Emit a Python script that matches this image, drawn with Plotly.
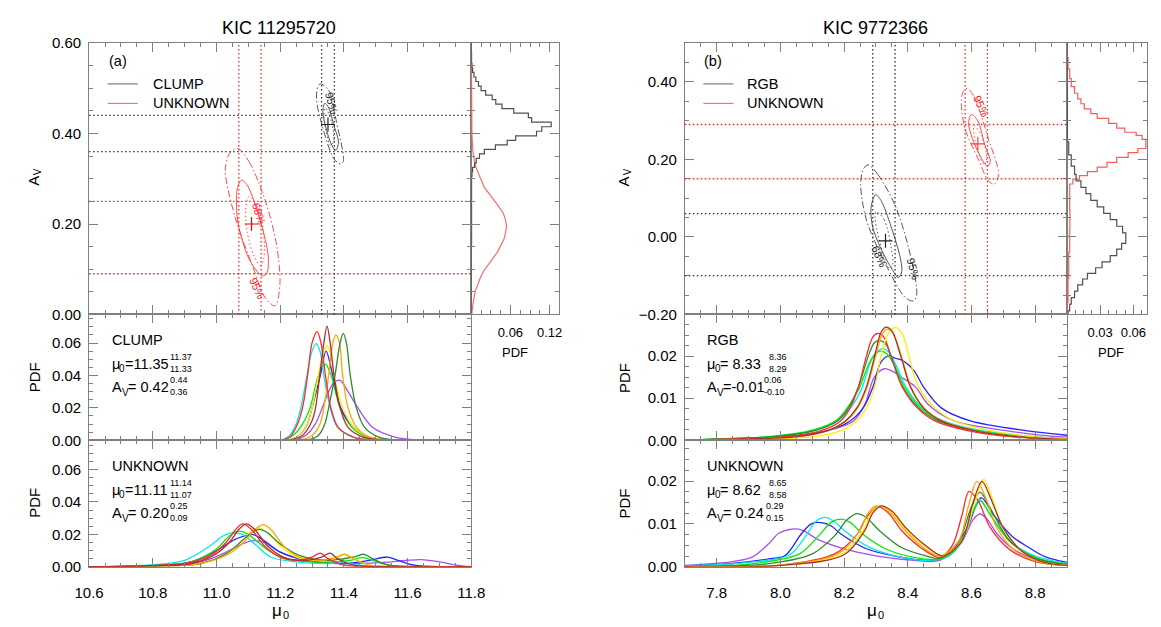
import plotly.graph_objects as go

FONT = "Liberation Sans, Arial, Helvetica, sans-serif"
W, H = 1161, 627

# ======================= DATA =======================
# --- KIC 11295720 (left) ---
L_TITLE = "KIC 11295720"
L_CLUMP_MU, L_CLUMP_MU_LIM = 11.35, [11.33, 11.37]
L_CLUMP_AV, L_CLUMP_AV_LIM = 0.42, [0.36, 0.44]
L_UNK_MU, L_UNK_MU_LIM = 11.11, [11.07, 11.14]
L_UNK_AV, L_UNK_AV_LIM = 0.20, [0.09, 0.25]

# contours (mu0, Av)
L_CLUMP_C68 = [(11.340, 0.467), (11.352, 0.457), (11.369, 0.417), (11.383, 0.381), (11.375, 0.363),
               (11.362, 0.374), (11.342, 0.417), (11.334, 0.449), (11.340, 0.467)]
L_CLUMP_C95 = [(11.326, 0.510), (11.352, 0.496), (11.377, 0.424), (11.398, 0.338), (11.388, 0.333),
               (11.367, 0.346), (11.332, 0.417), (11.314, 0.475), (11.318, 0.503), (11.326, 0.510)]
L_CLUMP_CIN = [(11.342, 0.457), (11.362, 0.424), (11.367, 0.381), (11.357, 0.374), (11.345, 0.403),
               (11.337, 0.439), (11.342, 0.457)]
L_UNK_C68 = [(11.079, 0.297), (11.097, 0.285), (11.117, 0.252), (11.153, 0.166), (11.163, 0.123),
             (11.158, 0.091), (11.145, 0.085), (11.128, 0.095), (11.102, 0.123), (11.080, 0.166),
             (11.066, 0.209), (11.063, 0.249), (11.066, 0.281), (11.079, 0.297)]
L_UNK_C95 = [(11.066, 0.367), (11.102, 0.338), (11.153, 0.252), (11.189, 0.152), (11.199, 0.066),
             (11.184, 0.019), (11.153, 0.037), (11.112, 0.109), (11.061, 0.209), (11.031, 0.295),
             (11.028, 0.324), (11.041, 0.356), (11.066, 0.367)]
L_UNK_CIN = [(11.102, 0.261), (11.133, 0.231), (11.148, 0.181), (11.148, 0.123), (11.138, 0.109),
             (11.117, 0.130), (11.097, 0.181), (11.092, 0.231), (11.102, 0.261)]

# marginal Av histograms (Av, PDF)
L_HIST_CLUMP_AV = [0.00, 0.30, 0.31, 0.32, 0.33, 0.34, 0.35, 0.36, 0.37, 0.38, 0.39, 0.40, 0.41, 0.42, 0.43,
                   0.44, 0.45, 0.46, 0.47, 0.48, 0.49, 0.50, 0.51, 0.52, 0.53, 0.54, 0.55, 0.56, 0.60]
L_HIST_CLUMP_P = [0.0, 0.0004, 0.001, 0.002, 0.005, 0.0075, 0.0125, 0.020, 0.037, 0.055, 0.068, 0.100,
                  0.108, 0.1225, 0.0925, 0.0875, 0.065, 0.047, 0.0375, 0.032, 0.022, 0.015, 0.011,
                  0.007, 0.004, 0.002, 0.001, 0.0004, 0.0]
L_HIST_UNK_AV = [0.000, 0.005, 0.023, 0.037, 0.052, 0.066, 0.080, 0.095, 0.109, 0.123, 0.138, 0.152,
                 0.166, 0.181, 0.195, 0.209, 0.224, 0.238, 0.252, 0.267, 0.281, 0.303, 0.324, 0.338,
                 0.360, 0.396, 0.468, 0.600]
L_HIST_UNK_P = [0.001, 0.001, 0.0025, 0.004, 0.006, 0.010, 0.0135, 0.0185, 0.025, 0.0325, 0.040, 0.045,
                0.050, 0.0525, 0.054, 0.0525, 0.049, 0.0425, 0.035, 0.0275, 0.020, 0.0135, 0.0075,
                0.005, 0.0025, 0.001, 0.0003, 0.0]

# mu0 PDFs, CLUMP solution (mu0, PDF)
L1_RED = [(10.60, 0), (11.20, 0), (11.23, 0.002), (11.25, 0.008), (11.27, 0.02), (11.286, 0.04), (11.30, 0.06),
          (11.316, 0.067), (11.328, 0.06), (11.342, 0.04), (11.359, 0.02), (11.382, 0.008), (11.43, 0.002),
          (11.50, 0), (11.80, 0)]
L1_CYAN = [(10.60, 0), (11.20, 0), (11.23, 0.003), (11.25, 0.01), (11.265, 0.02), (11.284, 0.04), (11.30, 0.055),
           (11.313, 0.0596), (11.325, 0.055), (11.337, 0.04), (11.357, 0.02), (11.38, 0.008), (11.43, 0.002),
           (11.50, 0), (11.80, 0)]
L1_BROWN = [(10.60, 0), (11.22, 0), (11.27, 0.003), (11.30, 0.012), (11.311, 0.02), (11.324, 0.04), (11.337, 0.06),
            (11.347, 0.0704), (11.357, 0.06), (11.369, 0.04), (11.388, 0.02), (11.413, 0.008), (11.46, 0.002),
            (11.55, 0), (11.80, 0)]
L1_YELLOW = [(10.60, 0), (11.22, 0), (11.26, 0.003), (11.285, 0.01), (11.30, 0.02), (11.32, 0.04), (11.335, 0.054),
             (11.347, 0.058), (11.358, 0.054), (11.369, 0.04), (11.396, 0.02), (11.43, 0.008), (11.48, 0.002),
             (11.55, 0), (11.80, 0)]
L1_BLUE = [(10.60, 0), (11.22, 0), (11.26, 0.003), (11.285, 0.01), (11.30, 0.02), (11.326, 0.04), (11.344, 0.055),
           (11.365, 0.04), (11.39, 0.02), (11.43, 0.008), (11.48, 0.002), (11.55, 0), (11.80, 0)]
L1_GREEN = [(10.60, 0), (11.20, 0), (11.24, 0.003), (11.27, 0.01), (11.294, 0.02), (11.32, 0.04), (11.342, 0.047),
            (11.36, 0.04), (11.388, 0.02), (11.425, 0.008), (11.47, 0.002), (11.55, 0), (11.80, 0)]
L1_ORANGE = [(10.60, 0), (11.26, 0), (11.30, 0.003), (11.325, 0.01), (11.337, 0.02), (11.352, 0.04), (11.365, 0.06),
             (11.375, 0.065), (11.386, 0.06), (11.396, 0.04), (11.413, 0.02), (11.44, 0.008), (11.48, 0.002),
             (11.55, 0), (11.80, 0)]
L1_DKGREEN = [(10.60, 0), (11.28, 0), (11.32, 0.003), (11.34, 0.01), (11.352, 0.02), (11.372, 0.04), (11.388, 0.06),
              (11.398, 0.066), (11.408, 0.06), (11.42, 0.04), (11.439, 0.02), (11.465, 0.008), (11.51, 0.002),
              (11.58, 0), (11.80, 0)]
L1_PURPLE = [(10.60, 0), (11.24, 0), (11.28, 0.003), (11.31, 0.01), (11.332, 0.02), (11.352, 0.03), (11.37, 0.036),
             (11.388, 0.037), (11.413, 0.03), (11.444, 0.02), (11.49, 0.008), (11.56, 0.002), (11.65, 0), (11.80, 0)]

# mu0 PDFs, UNKNOWN solution (left)
L2_RED = [(10.60, 0), (10.75, 0.0005), (10.90, 0.002), (10.98, 0.007), (11.03, 0.015), (11.06, 0.023), (11.082, 0.0264),
          (11.11, 0.023), (11.15, 0.013), (11.20, 0.006), (11.26, 0.004), (11.30, 0.006), (11.326, 0.0084),
          (11.35, 0.005), (11.40, 0.001), (11.50, 0), (11.80, 0)]
L2_BROWN = [(10.60, 0), (10.78, 0.0005), (10.92, 0.002), (10.99, 0.007), (11.04, 0.015), (11.07, 0.023), (11.094, 0.0264),
            (11.12, 0.023), (11.16, 0.013), (11.21, 0.006), (11.28, 0.004), (11.33, 0.006), (11.357, 0.0084),
            (11.38, 0.005), (11.43, 0.001), (11.55, 0), (11.80, 0)]
L2_ORANGE = [(10.60, 0), (10.80, 0.0005), (10.95, 0.002), (11.04, 0.008), (11.09, 0.016), (11.12, 0.023), (11.148, 0.026),
             (11.175, 0.022), (11.21, 0.013), (11.26, 0.006), (11.33, 0.004), (11.38, 0.006), (11.403, 0.0077),
             (11.43, 0.005), (11.48, 0.001), (11.60, 0), (11.80, 0)]
L2_YELLOW = [(10.60, 0), (10.80, 0.0005), (10.95, 0.002), (11.03, 0.008), (11.08, 0.016), (11.11, 0.022), (11.133, 0.024),
             (11.16, 0.021), (11.20, 0.013), (11.25, 0.006), (11.33, 0.004), (11.38, 0.006), (11.40, 0.0075),
             (11.43, 0.005), (11.48, 0.001), (11.60, 0), (11.80, 0)]
L2_DKGREEN = [(10.60, 0), (10.80, 0.0005), (10.95, 0.002), (11.03, 0.008), (11.08, 0.016), (11.11, 0.021), (11.133, 0.023),
              (11.16, 0.021), (11.20, 0.014), (11.26, 0.007), (11.35, 0.004), (11.43, 0.006), (11.464, 0.0077),
              (11.49, 0.005), (11.54, 0.001), (11.65, 0), (11.80, 0)]
L2_GREEN = [(10.60, 0), (10.78, 0.0005), (10.92, 0.003), (11.00, 0.011), (11.04, 0.019), (11.071, 0.022), (11.10, 0.020),
            (11.15, 0.012), (11.20, 0.006), (11.30, 0.003), (11.42, 0.004), (11.459, 0.0056), (11.49, 0.004),
            (11.54, 0.001), (11.65, 0), (11.80, 0)]
L2_CYAN = [(10.60, 0), (10.78, 0.001), (10.90, 0.004), (10.98, 0.013), (11.02, 0.019), (11.051, 0.021), (11.08, 0.020),
           (11.12, 0.014), (11.17, 0.006), (11.25, 0.003), (11.35, 0.002), (11.40, 0.0025), (11.45, 0.001),
           (11.55, 0), (11.80, 0)]
L2_BLUE = [(10.60, 0), (10.78, 0.0005), (10.92, 0.003), (11.00, 0.010), (11.06, 0.017), (11.112, 0.020), (11.15, 0.016),
           (11.20, 0.009), (11.28, 0.004), (11.40, 0.002), (11.48, 0.004), (11.536, 0.006), (11.57, 0.004),
           (11.62, 0.001), (11.72, 0), (11.80, 0)]
L2_PURPLE = [(10.60, 0), (10.80, 0.0005), (10.95, 0.003), (11.03, 0.009), (11.08, 0.014), (11.112, 0.016), (11.15, 0.015),
             (11.20, 0.009), (11.28, 0.004), (11.40, 0.002), (11.55, 0.003), (11.60, 0.004), (11.643, 0.0044),
             (11.70, 0.003), (11.75, 0.001), (11.80, 0)]

# --- KIC 9772366 (right) ---
R_TITLE = "KIC 9772366"
R_RGB_MU, R_RGB_MU_LIM = 8.33, [8.29, 8.36]
R_RGB_AV, R_RGB_AV_LIM = -0.01, [-0.10, 0.06]
R_UNK_MU, R_UNK_MU_LIM = 8.62, [8.58, 8.65]
R_UNK_AV, R_UNK_AV_LIM = 0.24, [0.15, 0.29]

R_RGB_C68 = [(8.299, 0.109), (8.316, 0.094), (8.347, 0.028), (8.377, -0.056), (8.381, -0.090), (8.370, -0.105),
             (8.352, -0.085), (8.316, -0.031), (8.289, 0.028), (8.285, 0.078), (8.299, 0.109)]
R_RGB_C95 = [(8.275, 0.186), (8.306, 0.161), (8.362, 0.078), (8.413, -0.064), (8.428, -0.148), (8.418, -0.165),
             (8.393, -0.157), (8.332, -0.073), (8.270, 0.044), (8.252, 0.136), (8.260, 0.174), (8.275, 0.186)]
R_RGB_CIN = [(8.301, 0.065), (8.326, 0.044), (8.347, -0.023), (8.352, -0.073), (8.342, -0.081), (8.321, -0.039),
             (8.303, 0.019), (8.297, 0.053), (8.301, 0.065)]
R_UNK_C68 = [(8.600, 0.316), (8.620, 0.299), (8.642, 0.237), (8.659, 0.195), (8.650, 0.182), (8.631, 0.203),
             (8.603, 0.253), (8.591, 0.295), (8.600, 0.316)]
R_UNK_C95 = [(8.586, 0.383), (8.608, 0.362), (8.653, 0.253), (8.685, 0.161), (8.671, 0.136), (8.653, 0.145),
             (8.620, 0.203), (8.580, 0.278), (8.568, 0.345), (8.574, 0.375), (8.586, 0.383)]
R_UNK_CIN = [(8.608, 0.287), (8.631, 0.262), (8.648, 0.203), (8.640, 0.186), (8.625, 0.211), (8.610, 0.253),
             (8.608, 0.287)]

R_HIST_RGB_AV = [-0.200, -0.199, -0.182, -0.165, -0.148, -0.132, -0.115, -0.102, -0.086, -0.073, -0.056, -0.040,
                 -0.023, -0.010, 0.002, 0.019, 0.036, 0.053, 0.069, 0.086, 0.103, 0.120, 0.136, 0.153, 0.170,
                 0.195, 0.228, 0.262, 0.500]
R_HIST_RGB_P = [0.0005, 0.0009, 0.0024, 0.0038, 0.0068, 0.0097, 0.0141, 0.0185, 0.0259, 0.0317, 0.0391, 0.045,
                0.0494, 0.0532, 0.0532, 0.0503, 0.045, 0.0391, 0.0332, 0.0273, 0.0215, 0.0171, 0.0126, 0.0082,
                0.0068, 0.0038, 0.0015, 0.0003, 0.0]
R_HIST_UNK_AV = [-0.200, -0.198, -0.140, -0.073, -0.006, 0.044, 0.094, 0.128, 0.145, 0.153, 0.163, 0.174, 0.186,
                 0.199, 0.211, 0.224, 0.232, 0.245, 0.258, 0.266, 0.274, 0.287, 0.299, 0.312, 0.324, 0.337,
                 0.350, 0.362, 0.379, 0.396, 0.421, 0.446, 0.479, 0.500]
R_HIST_UNK_P = [0.0003, 0.0003, 0.0009, 0.0015, 0.0024, 0.0026, 0.0024, 0.0024, 0.0053, 0.0112, 0.0185, 0.0273,
                0.0362, 0.045, 0.0553, 0.0641, 0.0714, 0.0714, 0.0679, 0.0626, 0.0523, 0.045, 0.0376, 0.0273,
                0.0215, 0.0156, 0.0126, 0.0097, 0.0068, 0.0038, 0.0024, 0.0009, 0.0003, 0.0]

# mu0 PDFs, RGB solution (right)
R1_RED = [(7.70, 0), (7.85, 0.0003), (8.015, 0.0008), (8.128, 0.0023), (8.189, 0.0046), (8.219, 0.0077), (8.245, 0.0127),
          (8.27, 0.02), (8.29, 0.0245), (8.306, 0.0254), (8.325, 0.0245), (8.347, 0.02), (8.383, 0.0127), (8.43, 0.0077),
          (8.485, 0.0046), (8.587, 0.0023), (8.73, 0.0008), (8.90, 0.0002)]
R1_ORANGE = [(7.70, 0), (7.89, 0.0003), (8.05, 0.0008), (8.15, 0.0023), (8.207, 0.0046), (8.243, 0.0077), (8.273, 0.0127),
             (8.299, 0.02), (8.318, 0.025), (8.334, 0.0264), (8.353, 0.0255), (8.38, 0.02), (8.41, 0.0127),
             (8.451, 0.0077), (8.507, 0.0046), (8.61, 0.0023), (8.75, 0.0008), (8.90, 0.0002)]
R1_BROWN = [(7.70, 0), (7.88, 0.0003), (8.046, 0.0008), (8.148, 0.0023), (8.204, 0.0046), (8.24, 0.0077), (8.27, 0.0127),
            (8.296, 0.02), (8.315, 0.0255), (8.331, 0.0269), (8.35, 0.026), (8.378, 0.02), (8.408, 0.0127),
            (8.449, 0.0077), (8.505, 0.0046), (8.607, 0.0023), (8.75, 0.0008), (8.90, 0.0002)]
R1_YELLOW = [(7.70, 0), (7.95, 0.0003), (8.10, 0.0008), (8.19, 0.0023), (8.24, 0.0046), (8.27, 0.0077), (8.296, 0.0127),
             (8.316, 0.02), (8.34, 0.0255), (8.362, 0.0268), (8.385, 0.025), (8.403, 0.02), (8.434, 0.0127),
             (8.485, 0.0077), (8.546, 0.0046), (8.66, 0.0023), (8.80, 0.0008), (8.90, 0.0003)]
R1_DKGREEN = [(7.70, 0), (7.80, 0.0003), (7.975, 0.0008), (8.107, 0.0023), (8.179, 0.0046), (8.214, 0.0077),
              (8.245, 0.0127), (8.276, 0.02), (8.295, 0.0232), (8.311, 0.0237), (8.33, 0.023), (8.352, 0.019),
              (8.383, 0.0127), (8.434, 0.0077), (8.495, 0.0046), (8.607, 0.0023), (8.76, 0.0008), (8.90, 0.0003)]
R1_GREEN = [(7.70, 0), (7.80, 0.0003), (7.97, 0.0009), (8.10, 0.0024), (8.175, 0.0047), (8.21, 0.0077), (8.245, 0.012),
            (8.28, 0.0185), (8.30, 0.0207), (8.316, 0.0212), (8.335, 0.0205), (8.36, 0.0175), (8.39, 0.0125),
            (8.44, 0.0077), (8.50, 0.0047), (8.61, 0.0024), (8.76, 0.0009), (8.90, 0.0003)]
R1_CYAN = [(7.70, 0), (7.82, 0.0003), (7.98, 0.0009), (8.11, 0.0024), (8.18, 0.0047), (8.22, 0.0077), (8.255, 0.0122),
           (8.285, 0.019), (8.305, 0.0212), (8.321, 0.0218), (8.34, 0.021), (8.365, 0.0175), (8.395, 0.0125),
           (8.445, 0.0077), (8.51, 0.0047), (8.62, 0.0025), (8.78, 0.001), (8.90, 0.0004)]
R1_BLUE = [(7.70, 0), (7.85, 0.0003), (8.015, 0.0008), (8.148, 0.0023), (8.219, 0.0046), (8.26, 0.0077), (8.291, 0.0127),
           (8.315, 0.0185), (8.342, 0.0201), (8.36, 0.0195), (8.383, 0.019), (8.42, 0.0165), (8.449, 0.0127),
           (8.505, 0.0077), (8.597, 0.0046), (8.77, 0.0023), (8.90, 0.0012)]
R1_PURPLE = [(7.70, 0), (7.85, 0.0003), (7.995, 0.0008), (8.148, 0.0023), (8.23, 0.0046), (8.265, 0.0085), (8.295, 0.015),
             (8.326, 0.017), (8.35, 0.0165), (8.38, 0.015), (8.424, 0.0127), (8.464, 0.0085), (8.546, 0.0046),
             (8.709, 0.0023), (8.85, 0.001), (8.90, 0.0008)]

# mu0 PDFs, UNKNOWN solution (right)
R2_PURPLE = [(7.70, 0.0003), (7.85, 0.0012), (7.913, 0.0023), (7.964, 0.0054), (7.995, 0.0078), (8.036, 0.0088),
             (8.07, 0.0085), (8.117, 0.0064), (8.219, 0.0038), (8.32, 0.0023), (8.42, 0.0015), (8.50, 0.0015),
             (8.566, 0.0054), (8.605, 0.011), (8.627, 0.0123), (8.65, 0.011), (8.68, 0.0077), (8.73, 0.0042),
             (8.81, 0.0015), (8.90, 0.0003)]
R2_BLUE = [(7.70, 0.0002), (7.85, 0.0008), (7.96, 0.0018), (8.015, 0.0026), (8.066, 0.0077), (8.097, 0.0100),
           (8.128, 0.0103), (8.16, 0.0095), (8.189, 0.0077), (8.27, 0.0042), (8.372, 0.0023), (8.47, 0.0015),
           (8.53, 0.003), (8.587, 0.0092), (8.63, 0.0161), (8.67, 0.012), (8.729, 0.007), (8.78, 0.0045),
           (8.832, 0.0023), (8.90, 0.001)]
R2_CYAN = [(7.70, 0.0002), (7.90, 0.0010), (8.03, 0.0028), (8.08, 0.0072), (8.11, 0.0105), (8.14, 0.0115), (8.17, 0.0105),
           (8.20, 0.0085), (8.28, 0.0045), (8.38, 0.0022), (8.47, 0.0015), (8.53, 0.0025), (8.57, 0.006), (8.60, 0.012),
           (8.625, 0.0157), (8.66, 0.012), (8.72, 0.006), (8.80, 0.0025), (8.90, 0.0008)]
R2_GREEN = [(7.70, 0.0001), (7.90, 0.0006), (8.06, 0.003), (8.12, 0.0072), (8.16, 0.0104), (8.189, 0.0111), (8.22, 0.0103),
            (8.26, 0.0075), (8.33, 0.0042), (8.42, 0.0022), (8.50, 0.0018), (8.55, 0.004), (8.58, 0.008), (8.605, 0.013),
            (8.628, 0.0153), (8.66, 0.012), (8.72, 0.006), (8.80, 0.0022), (8.90, 0.0006)]
R2_DKGREEN = [(7.70, 0.0001), (7.95, 0.0006), (8.10, 0.003), (8.17, 0.0072), (8.21, 0.011), (8.24, 0.0124), (8.27, 0.0115),
              (8.31, 0.0085), (8.38, 0.0045), (8.46, 0.0025), (8.50, 0.002), (8.56, 0.006), (8.60, 0.014),
              (8.627, 0.0174), (8.66, 0.0135), (8.72, 0.006), (8.80, 0.002), (8.90, 0.0005)]
R2_RED = [(7.70, 0), (8.00, 0.0004), (8.17, 0.003), (8.24, 0.0075), (8.27, 0.0115), (8.306, 0.014), (8.34, 0.0125),
          (8.38, 0.0085), (8.44, 0.0045), (8.50, 0.0022), (8.54, 0.005), (8.57, 0.012), (8.592, 0.0176), (8.62, 0.0155),
          (8.66, 0.009), (8.72, 0.004), (8.80, 0.0012), (8.90, 0.0003)]
R2_ORANGE = [(7.70, 0), (8.00, 0.0004), (8.18, 0.003), (8.25, 0.0085), (8.275, 0.0125), (8.30, 0.0142), (8.34, 0.013),
             (8.385, 0.009), (8.44, 0.005), (8.50, 0.0025), (8.56, 0.006), (8.59, 0.014), (8.617, 0.0199), (8.645, 0.016),
             (8.68, 0.009), (8.74, 0.0035), (8.82, 0.001), (8.90, 0.0003)]
R2_YELLOW = [(7.70, 0), (8.00, 0.0003), (8.19, 0.0028), (8.26, 0.0085), (8.285, 0.0125), (8.311, 0.0142), (8.345, 0.013),
             (8.39, 0.009), (8.45, 0.005), (8.51, 0.0025), (8.57, 0.006), (8.61, 0.015), (8.638, 0.0204), (8.66, 0.017),
             (8.70, 0.009), (8.76, 0.0035), (8.83, 0.001), (8.90, 0.0003)]
R2_BROWN = [(7.70, 0), (8.00, 0.0003), (8.20, 0.0028), (8.265, 0.0085), (8.29, 0.0125), (8.316, 0.0142), (8.35, 0.013),
            (8.395, 0.009), (8.455, 0.005), (8.51, 0.0025), (8.57, 0.006), (8.605, 0.015), (8.633, 0.0199), (8.66, 0.016),
            (8.70, 0.009), (8.76, 0.0035), (8.83, 0.001), (8.90, 0.0003)]

# ======================= STYLE =======================
C = dict(red="#ff2a2a", cyan="#00e8f0", brown="#a8302a", yellow="#ffee00", orange="#ffa500",
         green="#00ee00", dkgreen="#2e8b2e", blue="#2424ff", purple="#a64ff0")
AX = "#808080"
GRAY = "#555555"
LRED = "#ff4a4a"
DOT = "1.5px,2.5px"

fig = go.Figure()


def px2x(p):
    return p / W


def px2y(p):
    return 1 - p / H


def add_line(pts, color, xa, ya, dash="solid", width=1.0, shape="spline"):
    fig.add_trace(go.Scatter(x=[p[0] for p in pts], y=[p[1] for p in pts], mode="lines",
                             line=dict(color=color, width=width, dash=dash, shape=shape, smoothing=0.9),
                             xaxis=xa, yaxis=ya, showlegend=False, hoverinfo="skip"))


# ---- contour panels ----
for (c68, c95, cin, col, xa, ya) in [
    (L_CLUMP_C68, L_CLUMP_C95, L_CLUMP_CIN, GRAY, "x", "y"),
    (L_UNK_C68, L_UNK_C95, L_UNK_CIN, LRED, "x", "y"),
    (R_RGB_C68, R_RGB_C95, R_RGB_CIN, GRAY, "x5", "y5"),
    (R_UNK_C68, R_UNK_C95, R_UNK_CIN, LRED, "x5", "y5"),
]:
    add_line(cin, col, xa, ya, dash=DOT, width=1)
    add_line(c68, col, xa, ya, dash="solid", width=1)
    add_line(c95, col, xa, ya, dash="7px,2.5px,1.5px,2.5px", width=1)

for (mu, av, col, xa, ya) in [(L_CLUMP_MU, L_CLUMP_AV, "#222222", "x", "y"), (L_UNK_MU, L_UNK_AV, "#ff0000", "x", "y"),
                              (R_RGB_MU, R_RGB_AV, "#222222", "x5", "y5"), (R_UNK_MU, R_UNK_AV, "#ff4040", "x5", "y5")]:
    fig.add_trace(go.Scatter(x=[mu], y=[av], mode="markers", xaxis=xa, yaxis=ya, showlegend=False, hoverinfo="skip",
                             marker=dict(symbol="cross-thin", size=10, line=dict(color=col, width=1.2))))

# ---- marginal histograms ----
fig.add_trace(go.Scatter(x=L_HIST_UNK_P, y=L_HIST_UNK_AV, mode="lines", line=dict(color="#ff6a6a", width=1.2),
                         xaxis="x2", yaxis="y2", showlegend=False, hoverinfo="skip"))
fig.add_trace(go.Scatter(x=L_HIST_CLUMP_P, y=L_HIST_CLUMP_AV, mode="lines",
                         line=dict(color="#505050", width=1.2, shape="vhv"),
                         xaxis="x2", yaxis="y2", showlegend=False, hoverinfo="skip"))
fig.add_trace(go.Scatter(x=R_HIST_UNK_P, y=R_HIST_UNK_AV, mode="lines",
                         line=dict(color="#ff5a5a", width=1.2, shape="vhv"),
                         xaxis="x6", yaxis="y6", showlegend=False, hoverinfo="skip"))
fig.add_trace(go.Scatter(x=R_HIST_RGB_P, y=R_HIST_RGB_AV, mode="lines",
                         line=dict(color="#505050", width=1.2, shape="vhv"),
                         xaxis="x6", yaxis="y6", showlegend=False, hoverinfo="skip"))

# ---- PDF panels ----
LW = 1.3
for pts, col in [(L1_PURPLE, "purple"), (L1_GREEN, "green"), (L1_BLUE, "blue"), (L1_YELLOW, "yellow"),
                 (L1_CYAN, "cyan"), (L1_ORANGE, "orange"), (L1_DKGREEN, "dkgreen"), (L1_RED, "red"), (L1_BROWN, "brown")]:
    add_line(pts, C[col], "x3", "y3", width=LW)
for pts, col in [(L2_PURPLE, "purple"), (L2_BLUE, "blue"), (L2_CYAN, "cyan"), (L2_GREEN, "green"), (L2_YELLOW, "yellow"),
                 (L2_DKGREEN, "dkgreen"), (L2_ORANGE, "orange"), (L2_RED, "red"), (L2_BROWN, "brown")]:
    add_line(pts, C[col], "x4", "y4", width=LW)
for pts, col in [(R1_PURPLE, "purple"), (R1_BLUE, "blue"), (R1_CYAN, "cyan"), (R1_GREEN, "green"), (R1_DKGREEN, "dkgreen"),
                 (R1_RED, "red"), (R1_ORANGE, "orange"), (R1_YELLOW, "yellow"), (R1_BROWN, "brown")]:
    add_line(pts, C[col], "x7", "y7", width=LW)
for pts, col in [(R2_PURPLE, "purple"), (R2_BLUE, "blue"), (R2_CYAN, "cyan"), (R2_GREEN, "green"), (R2_DKGREEN, "dkgreen"),
                 (R2_RED, "red"), (R2_ORANGE, "orange"), (R2_YELLOW, "yellow"), (R2_BROWN, "brown")]:
    add_line(pts, C[col], "x8", "y8", width=LW)

# ---- dotted limit lines ----
shapes = []
for lims, col, xr, yr in [(L_CLUMP_MU_LIM, "#333333", "x", "y"), (L_UNK_MU_LIM, "#ff2020", "x", "y"),
                          (R_RGB_MU_LIM, "#333333", "x5", "y5"), (R_UNK_MU_LIM, "#ff2020", "x5", "y5")]:
    for v in lims:
        shapes.append(dict(type="line", xref=xr, yref=yr + " domain", x0=v, x1=v, y0=0, y1=1,
                           line=dict(color=col, width=1.3, dash=DOT), layer="above"))
for lims, col, xr, yr in [(L_CLUMP_AV_LIM, "#333333", "x", "y"), (L_UNK_AV_LIM, "#ff2020", "x", "y"),
                          (R_RGB_AV_LIM, "#333333", "x5", "y5"), (R_UNK_AV_LIM, "#ff2020", "x5", "y5")]:
    for a in lims:
        shapes.append(dict(type="line", xref=xr + " domain", yref=yr, x0=0, x1=1, y0=a, y1=a,
                           line=dict(color=col, width=1.3, dash=DOT), layer="above"))

# legend lines
for x0, x1 in [(95, 126), (706, 737)]:
    shapes.append(dict(type="line", xref="paper", yref="paper", x0=px2x(x0), x1=px2x(x1), y0=px2y(77), y1=px2y(77),
                       line=dict(color="#666666", width=1)))
    shapes.append(dict(type="line", xref="paper", yref="paper", x0=px2x(x0), x1=px2x(x1), y0=px2y(97), y1=px2y(97),
                       line=dict(color="#ff5a5a", width=1)))

# ---- annotations ----
ann = []


def txt(px, py, s, size=14.5, color="black", xanchor="left", angle=0):
    ann.append(dict(x=px2x(px), y=px2y(py), xref="paper", yref="paper", text=s, showarrow=False,
                    xanchor=xanchor, yanchor="middle", textangle=angle, borderpad=0,
                    font=dict(family=FONT, size=size, color=color)))


def dtxt(x, y, xr, yr, s, color, angle):
    ann.append(dict(x=x, y=y, xref=xr, yref=yr, text=s, showarrow=False, textangle=angle,
                    font=dict(family=FONT, size=11, color=color)))


txt(271, 20, L_TITLE, size=18, xanchor="center")
txt(883, 20, R_TITLE, size=18, xanchor="center")
txt(106, 53, "(a)", xanchor="center")
txt(716, 53, "(b)", xanchor="center")
txt(140, 77, "CLUMP")
txt(140, 97, "UNKNOWN")
txt(750, 77, "RGB")
txt(750, 97, "UNKNOWN")

# axis titles (subscripts as separate small texts)
for xa, xv in ((19, 24), (624, 629)):
    txt(xa, 177, "A", size=15, xanchor="center", angle=-90)
    txt(xv, 167.5, "V", size=10, xanchor="center", angle=-90)
    txt(xa + 1, 379, "PDF", size=15, xanchor="center", angle=-90)
    txt(xa + 1, 508, "PDF", size=15, xanchor="center", angle=-90)
for xm, xs in ((268.5, 277.5), (879, 888)):
    txt(xm, 618, "μ", size=17, xanchor="center")
    txt(xs, 622.5, "0", size=11, xanchor="center")
txt(513, 353, "PDF", size=13, xanchor="center")
txt(1124, 353, "PDF", size=13, xanchor="center")

# text blocks in PDF panels


def block(x0, y0, label, mu, mulim, av, avlim, xs_mu, xs_av):
    txt(x0, y0, label)
    txt(x0, y0 + 25, "μ")
    txt(x0 + 8.0, y0 + 29.5, "0", size=10)
    txt(x0 + 14, y0 + 25, "=" + f"{mu:5.2f}".replace(" ", "\u00a0"))
    txt(xs_mu, y0 + 17.5, f"{mulim[1]:.2f}", size=9)
    txt(xs_mu, y0 + 30.5, f"{mulim[0]:.2f}", size=9)
    txt(x0 + 0.5, y0 + 48.5, "A")
    txt(x0 + 10.3, y0 + 54, "V", size=10)
    txt(x0 + 16.5, y0 + 48.5, "=" + f"{av:5.2f}".replace(" ", "\u00a0"))
    txt(xs_av, y0 + 41.5, f"{avlim[1]:.2f}", size=9)
    txt(xs_av, y0 + 54, f"{avlim[0]:.2f}", size=9)


block(98, 340, "CLUMP", L_CLUMP_MU, L_CLUMP_MU_LIM, L_CLUMP_AV, L_CLUMP_AV_LIM, 157.5, 157.5)
block(98, 469.5, "UNKNOWN", L_UNK_MU, L_UNK_MU_LIM, L_UNK_AV, L_UNK_AV_LIM, 157.5, 157.5)
block(708.5, 340, "RGB", R_RGB_MU, R_RGB_MU_LIM, R_RGB_AV, R_RGB_AV_LIM, 772, 767)
block(708.5, 469.5, "UNKNOWN", R_UNK_MU, R_UNK_MU_LIM, R_UNK_AV, R_UNK_AV_LIM, 772, 769)

# contour labels
dtxt(11.132, 0.224, "x", "y", "68%", "#ff2020", 72)
dtxt(11.127, 0.058, "x", "y", "95%", "#ff2020", 65)
dtxt(11.362, 0.468, "x", "y", "95%", "#222222", 75)
dtxt(8.309, -0.050, "x5", "y5", "68%", "#222222", 65)
dtxt(8.417, -0.083, "x5", "y5", "95%", "#222222", 75)
dtxt(8.630, 0.337, "x5", "y5", "95%", "#ff2020", 65)

# ---- axes ----


def axis(dom, rng, dtick=None, tick0=None, minor_dt=None, labels=False, fmt=None, anchor=None, size=15,
         tickvals=None, ticktext=None, standoff=None):
    a = dict(domain=dom, range=rng, showline=True, linecolor=AX, linewidth=1, mirror="allticks",
             ticks="inside", ticklen=9, tickwidth=1, tickcolor=AX, showgrid=False, zeroline=False,
             showticklabels=labels, tickfont=dict(family=FONT, size=size, color="black"), anchor=anchor)
    if tickvals is not None:
        a.update(tickmode="array", tickvals=tickvals, ticktext=ticktext)
    else:
        a.update(tick0=tick0, dtick=dtick)
    if minor_dt:
        a["minor"] = dict(dtick=minor_dt, ticks="inside", ticklen=4, tickcolor=AX, tickwidth=1, showgrid=False)
    if fmt:
        a["tickformat"] = fmt
    if standoff is not None:
        a["ticklabelstandoff"] = standoff
    return a


LX = [px2x(76), px2x(468)]
LMX = [px2x(468), px2x(558.3)]
RX = [px2x(687), px2x(1079)]
RMX = [px2x(1079), 1.0]
YMAIN = [px2y(314), px2y(35)]
YMID = [px2y(443.3), px2y(314)]
YBOT = [px2y(573.3), px2y(443.3)]

layout_axes = dict(
    xaxis=axis(LX, [10.6, 11.8], 0.2, 10.6, 0.05, anchor="y"),
    yaxis=axis(YMAIN, [0, 0.6], 0.2, 0, 0.05, labels=True, fmt=".2f", anchor="x", standoff=4),
    xaxis2=axis(LMX, [0, 0.135], minor_dt=0.015, labels=True, anchor="y2", size=13,
                tickvals=[0.06, 0.12], ticktext=["0.06", "0.12"], standoff=6),
    yaxis2=axis(YMAIN, [0, 0.6], 0.2, 0, 0.05, anchor="x2"),
    xaxis3=axis(LX, [10.6, 11.8], 0.2, 10.6, 0.05, anchor="y3"),
    yaxis3=axis(YMID, [0, 0.0776], 0.02, 0, 0.005, labels=True, fmt=".2f", anchor="x3", standoff=4),
    xaxis4=axis(LX, [10.6, 11.8], 0.2, 10.6, 0.05, labels=True, fmt=".1f", anchor="y4", standoff=12),
    yaxis4=axis(YBOT, [0, 0.078], 0.02, 0, 0.005, labels=True, fmt=".2f", anchor="x4", standoff=4),
    xaxis5=axis(RX, [7.7, 8.9], 0.2, 7.8, 0.05, anchor="y5"),
    yaxis5=axis(YMAIN, [-0.2, 0.5], 0.2, 0, 0.05, labels=True, fmt=".2f", anchor="x5", standoff=4),
    xaxis6=axis(RMX, [0, 0.0724], minor_dt=0.0075, labels=True, anchor="y6", size=13,
                tickvals=[0.03, 0.06], ticktext=["0.03", "0.06"], standoff=6),
    yaxis6=axis(YMAIN, [-0.2, 0.5], 0.2, 0, 0.05, anchor="x6"),
    xaxis7=axis(RX, [7.7, 8.9], 0.2, 7.8, 0.05, anchor="y7"),
    yaxis7=axis(YMID, [0, 0.0299], 0.01, 0, 0.0025, labels=True, fmt=".2f", anchor="x7", standoff=4),
    xaxis8=axis(RX, [7.7, 8.9], 0.2, 7.8, 0.05, labels=True, fmt=".1f", anchor="y8", standoff=12),
    yaxis8=axis(YBOT, [0, 0.0295], 0.01, 0, 0.0025, labels=True, fmt=".2f", anchor="x8", standoff=4),
)

fig.update_layout(width=W, height=H, autosize=False, margin=dict(l=0, r=0, t=0, b=0),
                  paper_bgcolor="white", plot_bgcolor="white", showlegend=False,
                  shapes=shapes, annotations=ann, font=dict(family=FONT), **layout_axes)

fig.write_html("out.html")
